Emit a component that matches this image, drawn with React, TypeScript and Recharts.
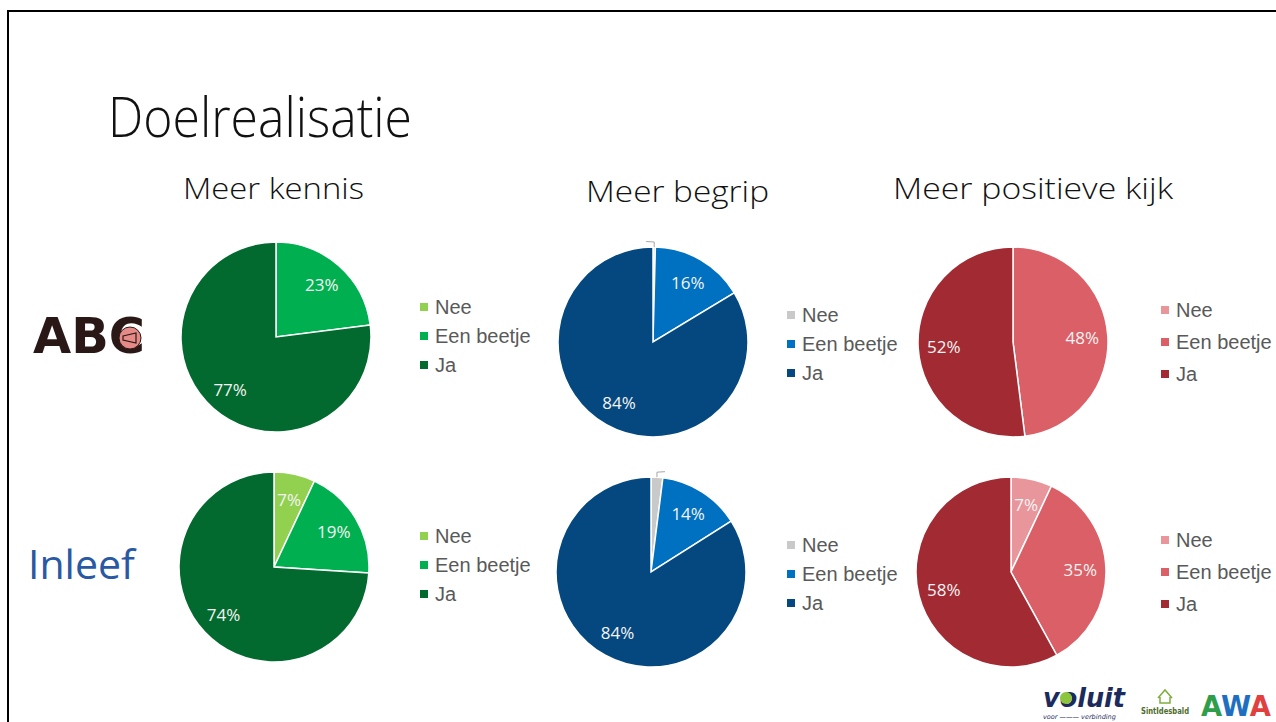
import React from "react";
import { PieChart, Pie, Cell, Legend } from "recharts";

const categories = ["Nee", "Een beetje", "Ja"];

// percentages per group, order: Nee, Een beetje, Ja
const abcKennis = [0, 23, 77];
const abcBegrip = [0.4, 16, 84];
const abcPositief = [0, 48, 52];
const inleefKennis = [7, 19, 74];
const inleefBegrip = [2, 14, 84];
const inleefPositief = [7, 35, 58];

const columnTitles = ["Meer kennis", "Meer begrip", "Meer positieve kijk"];

const greens = ["#92d050", "#00b050", "#036a2f"];
const blues = ["#c9c9c9", "#0070c0", "#04487f"];
const reds = ["#e8969b", "#db5f67", "#a22a33"];

const RAD = Math.PI / 180;
const lightFont = "'Open Sans', 'Noto Sans', sans-serif";

function renderLabel(p: any) {
  const { cx, cy, midAngle, outerRadius, value } = p;
  if (!value) return null;
  const cos = Math.cos(-midAngle * RAD);
  const sin = Math.sin(-midAngle * RAD);
  if (value < 3) {
    // tiny slice: only a leader line, no visible text
    const sx = cx + outerRadius * cos;
    const sy = cy + outerRadius * sin;
    const dir = midAngle >= 89 ? -1 : 1;
    return (
      <path
        d={`M${sx},${sy} L${sx},${sy - 5} L${sx + dir * 8},${sy - 5.5}`}
        stroke="#a6a6a6"
        strokeWidth={1}
        fill="none"
      />
    );
  }
  const r = outerRadius * 0.73;
  return (
    <text
      x={cx + r * cos}
      y={cy + r * sin}
      fill="#f4f4f4"
      textAnchor="middle"
      dominantBaseline="central"
      fontSize={17}
      fontFamily={lightFont}
    >
      {Math.round(value)}%
    </text>
  );
}

function LegendBox({ payload, gap }: any) {
  const items = [...(payload || [])].sort(
    (a: any, b: any) => categories.indexOf(a.value) - categories.indexOf(b.value)
  );
  return (
    <div style={{ fontFamily: "'Liberation Sans', Arial, sans-serif", fontSize: 20, color: "#595959" }}>
      {items.map((item: any) => (
        <div key={item.value} style={{ height: gap, lineHeight: `${gap}px`, display: "flex", alignItems: "center", whiteSpace: "nowrap" }}>
          <span style={{ width: 8, height: 8, background: item.color, display: "inline-block", marginRight: 7 }} />
          {item.value}
        </div>
      ))}
    </div>
  );
}

type PieProps = {
  values: number[];
  colors: string[];
  x: number;
  y: number;
  legendX: number;
  legendY: number;
  gap: number;
};

function DoelPie({ values, colors, x, y, legendX, legendY, gap }: PieProps) {
  const data = categories.map((name, i) => ({ name, value: values[i] }));
  return (
    <div style={{ position: "absolute", left: x - 120, top: y - 120 }}>
      <PieChart width={400} height={240} margin={{ top: 0, right: 0, bottom: 0, left: 0 }}>
        <Pie
          data={data}
          dataKey="value"
          nameKey="name"
          cx={120}
          cy={120}
          outerRadius={95}
          startAngle={90}
          endAngle={-270}
          stroke="#ffffff"
          strokeWidth={1.5}
          label={renderLabel}
          labelLine={false}
          isAnimationActive={false}
        >
          {data.map((d, i) => (
            <Cell key={d.name} fill={colors[i]} />
          ))}
        </Pie>
        <Legend
          layout="vertical"
          align="right"
          verticalAlign="top"
          content={(props: any) => <LegendBox payload={props.payload} gap={gap} />}
          wrapperStyle={{ left: legendX - x + 120, top: legendY - y + 120 - gap / 2, right: "auto", width: "auto" }}
        />
      </PieChart>
    </div>
  );
}

export default function App() {
  return (
    <div style={{ position: "fixed", left: 0, top: 0, width: 1276, height: 722, background: "#fff", overflow: "hidden" }}>
      <svg width={1276} height={722} style={{ position: "absolute", left: 0, top: 0 }}>
        <rect x={8} y={11} width={1400} height={800} fill="none" stroke="#000" strokeWidth={2} />
        <text x={108} y={137} fontFamily={lightFont} fontWeight={300} fontSize={55} textLength={304} lengthAdjust="spacingAndGlyphs" fill="#111">
          Doelrealisatie
        </text>
        <text x={183} y={199} fontFamily={lightFont} fontWeight={300} fontSize={30} textLength={181} lengthAdjust="spacingAndGlyphs" fill="#111">
          {columnTitles[0]}
        </text>
        <text x={586} y={202} fontFamily={lightFont} fontWeight={300} fontSize={30} textLength={183} lengthAdjust="spacingAndGlyphs" fill="#111">
          {columnTitles[1]}
        </text>
        <text x={893} y={199} fontFamily={lightFont} fontWeight={300} fontSize={30} textLength={280} lengthAdjust="spacingAndGlyphs" fill="#111">
          {columnTitles[2]}
        </text>

        {/* ABC logo */}
        <text x={33} y={353} fontFamily="'DejaVu Sans', sans-serif" fontWeight={700} fontSize={49} textLength={112} lengthAdjust="spacingAndGlyphs" fill="#2a1816">
          ABC
        </text>
        <circle cx={130} cy={338} r={11} fill="#e58a86" stroke="#2a1816" strokeWidth={1} />
        <path d="M123,336 L136,333 L136,343 L123,340 Z" fill="none" stroke="#2a1816" strokeWidth={1.2} />

        {/* Inleef logo */}
        <text x={28} y={579} fontFamily={lightFont} fontWeight={400} fontSize={41} fill="#2a59a4">
          Inleef
        </text>

        {/* bottom right logos */}
        <text x={1043} y={707} fontFamily="'DejaVu Sans', sans-serif" fontWeight={700} fontStyle="italic" fontSize={26} textLength={82} lengthAdjust="spacingAndGlyphs" fill="#1c2b5c">
          voluit
        </text>
        <circle cx={1066} cy={698} r={6} fill="#8cc63f" />
        <text x={1043} y={719} fontFamily="'DejaVu Sans', sans-serif" fontStyle="italic" fontSize={6.5} fill="#1c2b5c">
          voor ——— verbinding
        </text>
        <path d="M1158,698 L1165,690 L1172,698 M1160,697 L1160,703 L1170,703 L1170,697" stroke="#7fae3c" strokeWidth={1.5} fill="none" />
        <text x={1141} y={714} fontFamily="'DejaVu Sans', sans-serif" fontWeight={700} fontSize={8} textLength={48} lengthAdjust="spacingAndGlyphs" fill="#4d6b2a">
          SintIdesbald
        </text>
        <text x={1201} y={716} fontFamily="'DejaVu Sans', sans-serif" fontWeight={700} fontSize={29} textLength={70} lengthAdjust="spacingAndGlyphs">
          <tspan fill="#2e9e4a">A</tspan>
          <tspan fill="#1f6fc1">W</tspan>
          <tspan fill="#e0413f">A</tspan>
        </text>
      </svg>

      <DoelPie values={abcKennis} colors={greens} x={276} y={337} legendX={420} legendY={307} gap={29} />
      <DoelPie values={abcBegrip} colors={blues} x={653} y={342} legendX={787} legendY={315} gap={29} />
      <DoelPie values={abcPositief} colors={reds} x={1013} y={342} legendX={1161} legendY={310} gap={32} />
      <DoelPie values={inleefKennis} colors={greens} x={274} y={567} legendX={420} legendY={536} gap={29} />
      <DoelPie values={inleefBegrip} colors={blues} x={651} y={572} legendX={787} legendY={545} gap={29} />
      <DoelPie values={inleefPositief} colors={reds} x={1011} y={572} legendX={1161} legendY={540} gap={32} />
    </div>
  );
}
